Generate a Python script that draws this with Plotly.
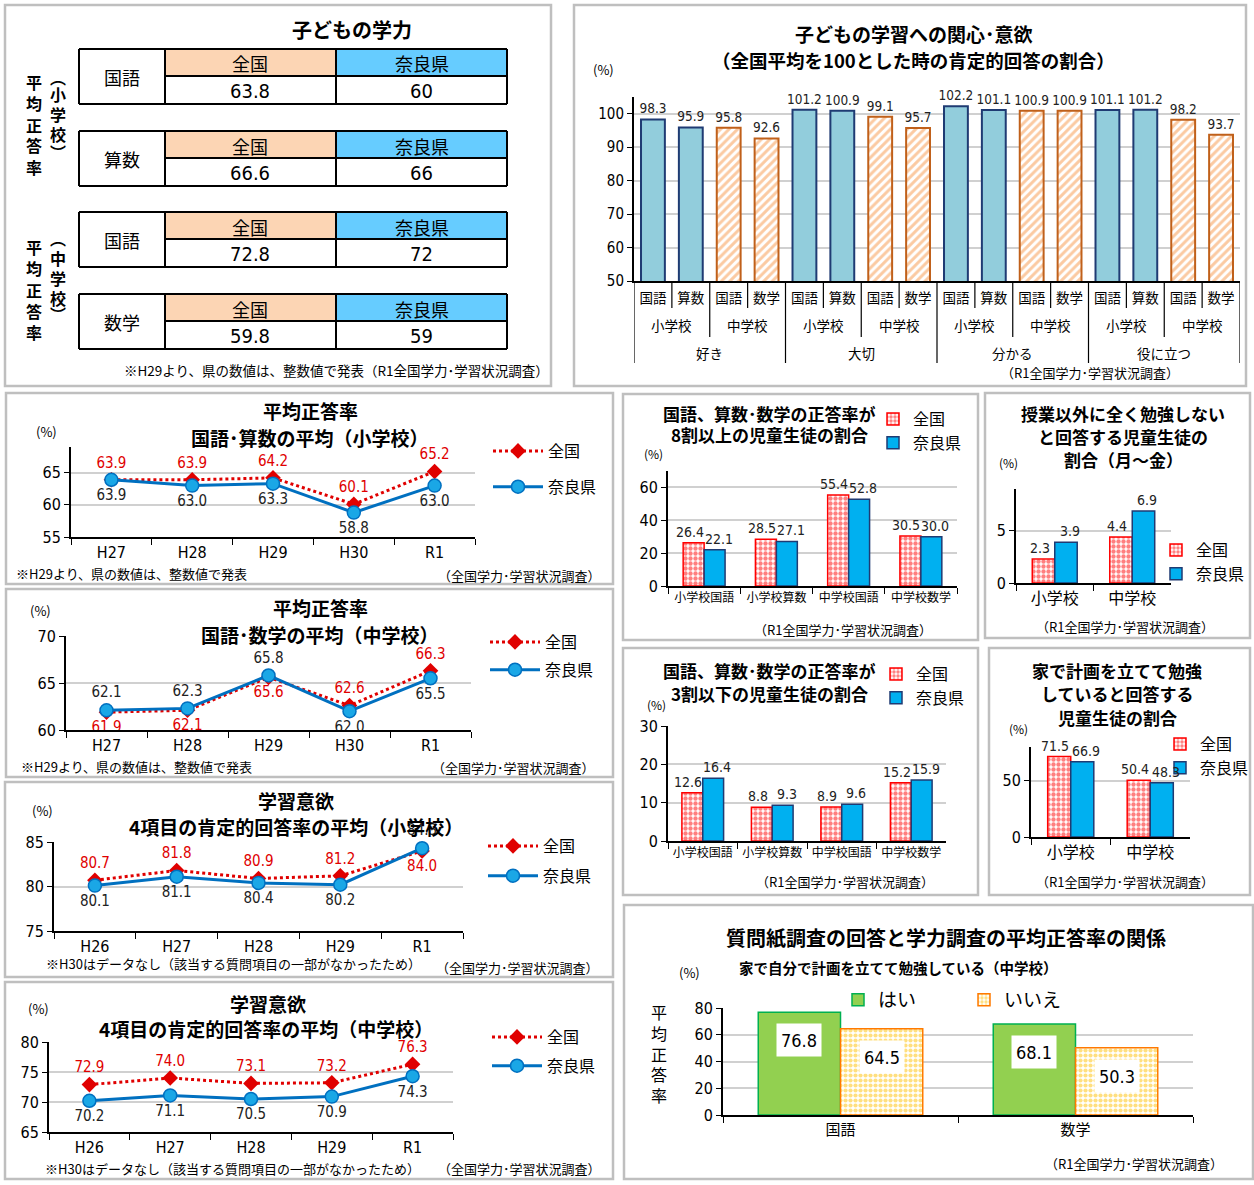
import plotly.graph_objects as go

W, H = 1254, 1185
CJK = "Noto Sans CJK JP"
NUM = "Liberation Sans Narrow, DejaVu Sans Condensed, Liberation Sans, Noto Sans CJK JP"

# ---------------- data ----------------
# Panel 1: table
tbl_subjects = ["国語", "算数", "国語", "数学"]
tbl_headers = ["全国", "奈良県"]
tbl_national = [63.8, 66.6, 72.8, 59.8]
tbl_nara = [60, 66, 72, 59]

# Panel 2: interest / motivation (national = 100)
att_groups = ["好き", "大切", "分かる", "役に立つ"]
att_schools = ["小学校", "中学校"]
att_subjects = ["国語", "算数", "国語", "数学"]
att_elem = [98.3, 95.9, 101.2, 100.9, 102.2, 101.1, 101.1, 101.2]
att_mid = [95.8, 92.6, 99.1, 95.7, 100.9, 100.9, 98.2, 93.7]

# Line charts
lc1_years = ["H27", "H28", "H29", "H30", "R1"]
lc1_nat = [63.9, 63.9, 64.2, 60.1, 65.2]
lc1_nara = [63.9, 63.0, 63.3, 58.8, 63.0]
lc2_years = ["H27", "H28", "H29", "H30", "R1"]
lc2_nat = [61.9, 62.1, 65.6, 62.6, 66.3]
lc2_nara = [62.1, 62.3, 65.8, 62.0, 65.5]
lc3_years = ["H26", "H27", "H28", "H29", "R1"]
lc3_nat = [80.7, 81.8, 80.9, 81.2, 84.0]
lc3_nara = [80.1, 81.1, 80.4, 80.2, 84.3]
lc4_years = ["H26", "H27", "H28", "H29", "R1"]
lc4_nat = [72.9, 74.0, 73.1, 73.2, 76.3]
lc4_nara = [70.2, 71.1, 70.5, 70.9, 74.3]

# Bar charts
bc1_cats = ["小学校国語", "小学校算数", "中学校国語", "中学校数学"]
bc1_nat = [26.4, 28.5, 55.4, 30.5]
bc1_nara = [22.1, 27.1, 52.8, 30.0]
bc2_cats = ["小学校", "中学校"]
bc2_nat = [2.3, 4.4]
bc2_nara = [3.9, 6.9]
bc3_cats = ["小学校国語", "小学校算数", "中学校国語", "中学校数学"]
bc3_nat = [12.6, 8.8, 8.9, 15.2]
bc3_nara = [16.4, 9.3, 9.6, 15.9]
bc4_cats = ["小学校", "中学校"]
bc4_nat = [71.5, 50.4]
bc4_nara = [66.9, 48.3]

# Bottom chart
rel_cats = ["国語", "数学"]
rel_yes = [76.8, 68.1]
rel_no = [64.5, 50.3]
rel_series = ["はい", "いいえ"]

SERIES = ["全国", "奈良県"]
SOURCE = "（全国学力･学習状況調査）"
SOURCE_R1 = "（R1全国学力･学習状況調査）"

# ---------------- helpers ----------------
fig = go.Figure()

def fx(p):
    return p / W

def fy(p):
    return 1 - p / H

ann = []
shp = []
lay = {}

def text(x, y, s, size, bold=False, color="black", family=CJK, xa="center", ya="middle"):
    ann.append(dict(x=fx(x), y=fy(y), xref="paper", yref="paper",
                    text=("<b>%s</b>" % s) if bold else s, showarrow=False,
                    font=dict(size=size, color=color, family=family),
                    xanchor=xa, yanchor=ya))

def rect(x0, y0, x1, y1, line="#BFBFBF", width=2.5, fill=None):
    d = dict(type="rect", xref="paper", yref="paper", x0=fx(x0), x1=fx(x1),
             y0=fy(y1), y1=fy(y0), line=dict(color=line, width=width), layer="below")
    if fill:
        d["fillcolor"] = fill
    if width == 0:
        d["line"] = dict(width=0)
    shp.append(d)

def hline(x0, x1, y, color="black", width=2):
    shp.append(dict(type="line", xref="paper", yref="paper", x0=fx(x0), x1=fx(x1),
                    y0=fy(y), y1=fy(y), line=dict(color=color, width=width)))

def vline(x, y0, y1, color="black", width=2):
    shp.append(dict(type="line", xref="paper", yref="paper", x0=fx(x), x1=fx(x),
                    y0=fy(y0), y1=fy(y1), line=dict(color=color, width=width)))

def axes(n, xl, xr, yt, yb, xcfg, ycfg):
    sx = "" if n == 1 else str(n)
    lay["xaxis" + sx] = dict(domain=[fx(xl), fx(xr)], anchor="y" + sx, automargin=False, **xcfg)
    lay["yaxis" + sx] = dict(domain=[fy(yb), fy(yt)], anchor="x" + sx, automargin=False, **ycfg)
    return "x" + sx, "y" + sx

def ycfg(rng, tickvals, size=16):
    return dict(range=rng, tickvals=tickvals, showgrid=True, gridcolor="#D0D0D0", gridwidth=1.5,
                zeroline=False, showline=True, linecolor="black", linewidth=2,
                ticks="outside", ticklen=5, tickcolor="black",
                tickfont=dict(family=NUM, size=size, color="black"), fixedrange=True)

def xcat(ncat, size=16, family=NUM):
    return dict(type="category", range=[-0.5, ncat - 0.5], showgrid=False, zeroline=False,
                showline=True, linecolor="black", linewidth=2, ticks="outside",
                tickson="boundaries", ticklen=6, tickcolor="black", tickangle=0,
                tickfont=dict(family=family, size=size, color="black"), fixedrange=True)

# ---------------- panel frames ----------------
panels = [(5, 5, 551, 386), (574, 5, 1246, 386), (6, 393, 613, 584), (6, 589, 613, 777),
          (5, 782, 613, 977), (5, 982, 613, 1179), (623, 394, 978, 640), (985, 393, 1250, 638),
          (623, 648, 978, 895), (989, 648, 1250, 895), (624, 905, 1253, 1179)]
for p in panels:
    rect(*p)

# ---------------- Panel 1: tables ----------------
text(352, 29, "子どもの学力", 20, bold=True)
TX = [79, 165, 336, 507]
TY = [49, 131, 212, 294]
HDR, ROW = 27, 28
for i, top in enumerate(TY):
    mid = top + HDR
    bot = mid + ROW
    rect(TX[1], top, TX[2], mid, width=0, fill="#FCD5B4")
    rect(TX[2], top, TX[3], mid, width=0, fill="#66CCFF")
    hline(TX[0], TX[3], top)
    hline(TX[0], TX[3], bot)
    hline(TX[1], TX[3], mid)
    for xx in TX:
        vline(xx, top, bot)
    text((TX[0] + TX[1]) / 2, (top + bot) / 2, tbl_subjects[i], 18)
    text((TX[1] + TX[2]) / 2, top + HDR / 2 + 1, tbl_headers[0], 18)
    text((TX[2] + TX[3]) / 2, top + HDR / 2 + 1, tbl_headers[1], 18)
    text((TX[1] + TX[2]) / 2, mid + ROW / 2 + 1, "%g" % tbl_national[i], 20, family=NUM)
    text((TX[2] + TX[3]) / 2, mid + ROW / 2 + 1, "%g" % tbl_nara[i], 20, family=NUM)

for chars, ys, xx in [("平均正答率", [82, 103, 125, 145, 167], 34),
                      ("︵小学校︶", [77, 94, 114, 134, 152], 58),
                      ("平均正答率", [247, 268, 290, 311, 332], 34),
                      ("︵中学校︶", [238, 258, 278, 298, 314], 58)]:
    for c, yy in zip(chars, ys):
        text(xx, yy, c, 16, bold=True)
text(336, 370, "※H29より、県の数値は、整数値で発表（R1全国学力･学習状況調査）", 13.5)

# ---------------- Panel 2: attitude bars ----------------
xa, ya = axes(1, 634, 1240, 97, 281,
              dict(range=[-0.5, 15.5], tickvals=list(range(16)), ticktext=att_subjects * 4,
                   showgrid=False, zeroline=False, showline=True, linecolor="black", linewidth=2,
                   ticks="", tickfont=dict(family=CJK, size=13.5, color="black"), tickangle=0,
                   ticklabelstandoff=4, fixedrange=True),
              ycfg([50, 105], [50, 60, 70, 80, 90, 100], size=15))
elem_x = [4 * (i // 2) + i % 2 for i in range(len(att_elem))]
mid_x = [4 * (i // 2) + 2 + i % 2 for i in range(len(att_mid))]
fig.add_trace(go.Bar(x=elem_x, y=att_elem, width=0.63, offset=-0.315, base=0,
                     marker=dict(color="#92CDDC", line=dict(color="#1F3B73", width=2)),
                     text=["%.1f" % v for v in att_elem], textposition="outside",
                     constraintext="none",
                     textfont=dict(family=NUM, size=13.5, color="#222"), cliponaxis=False,
                     showlegend=False, xaxis=xa, yaxis=ya))
fig.add_trace(go.Bar(x=mid_x, y=att_mid, width=0.63, offset=-0.315, base=0,
                     marker=dict(color="white", line=dict(color="#C0601A", width=2),
                                 pattern=dict(shape="/", fgcolor="#F79646", bgcolor="white",
                                              size=6, solidity=0.5)),
                     text=["%.1f" % v for v in att_mid], textposition="outside",
                     constraintext="none",
                     textfont=dict(family=NUM, size=13.5, color="#222"), cliponaxis=False,
                     showlegend=False, xaxis=xa, yaxis=ya))
n_bars = 4 * len(att_groups)
for k in range(n_bars + 1):
    yend = 363 if k % 4 == 0 else (337 if k % 2 == 0 else 308)
    shp.append(dict(type="line", xref=xa, yref="paper", x0=k - 0.5, x1=k - 0.5,
                    y0=fy(281), y1=fy(yend), line=dict(color="black", width=1.2)))
for g, grp in enumerate(att_groups):
    for s, sch in enumerate(att_schools):
        ann.append(dict(x=4 * g + 2 * s + 0.5, y=fy(325), xref=xa, yref="paper", text=sch,
                        showarrow=False, xanchor="center", yanchor="middle",
                        font=dict(family=CJK, size=13.5, color="black")))
    ann.append(dict(x=4 * g + 1.5, y=fy(353), xref=xa, yref="paper", text=grp,
                    showarrow=False, xanchor="center", yanchor="middle",
                    font=dict(family=CJK, size=13.5, color="black")))
text(914, 33, "子どもの学習への関心･意欲", 19, bold=True)
text(914, 60, "（全国平均を100とした時の肯定的回答の割合）", 18.5, bold=True)
text(603, 70, "(%)", 13)
text(1090, 372, SOURCE_R1, 13)

# ---------------- Line charts ----------------
RED = "#E00000"
BLUE = "#0070C0"

def line_chart(n, years, nat, nara, nat_pos, nara_pos, dom, yr, yt, leg, legpos, gap,
               titles, pct, note, src):
    xa, ya = axes(n, dom[0], dom[1], dom[2], dom[3], xcat(len(years), 16), ycfg(yr, yt, 16))
    fig.add_trace(go.Scatter(x=years, y=nat, name=SERIES[0], mode="lines+markers+text",
                             line=dict(color=RED, width=3, dash="dot"),
                             marker=dict(symbol="diamond", size=12, color=RED),
                             text=["%.1f" % v for v in nat], textposition=nat_pos,
                             textfont=dict(family=NUM, size=15, color=RED), cliponaxis=False,
                             legend=leg, legendgroup=leg + "a", xaxis=xa, yaxis=ya))
    fig.add_trace(go.Scatter(x=years, y=nara, name=SERIES[1], mode="lines+markers+text",
                             line=dict(color=BLUE, width=3),
                             marker=dict(symbol="circle", size=13, color="#1AA7E6",
                                         line=dict(color=BLUE, width=1.5)),
                             text=["%.1f" % v for v in nara], textposition=nara_pos,
                             textfont=dict(family=NUM, size=15, color="#222"), cliponaxis=False,
                             legend=leg, legendgroup=leg + "b", xaxis=xa, yaxis=ya))
    lay[leg] = dict(x=fx(legpos[0]), y=fy(legpos[1]), xanchor="left", yanchor="top",
                    font=dict(family=CJK, size=16, color="black"), bgcolor="rgba(0,0,0,0)",
                    traceorder="grouped", tracegroupgap=gap, itemwidth=50)
    for (tx, ty, ts) in titles:
        text(tx, ty, ts, 19, bold=True)
    text(pct[0], pct[1], "(%)", 13)
    text(note[0], note[1], note[2], 13, xa="left")
    text(src[0], src[1], SOURCE, 13)

T, B = "top center", "bottom center"
line_chart(2, lc1_years, lc1_nat, lc1_nara, [T] * 5, [B] * 5, (71, 475, 447, 537),
           [55, 69], [55, 60, 65], "legend", (488, 434), 12,
           [(310, 410, "平均正答率"), (310, 437, "国語･算数の平均（小学校）")], (46, 432),
           (14, 573, "※H29より、県の数値は、整数値で発表"), (519, 576))
line_chart(3, lc2_years, lc2_nat, lc2_nara, [B, B, B, T, T], [T, T, T, B, B], (66, 471, 636, 730),
           [60, 70], [60, 65, 70], "legend2", (485, 625), 4,
           [(320, 607, "平均正答率"), (320, 634, "国語･数学の平均（中学校）")], (40, 610),
           (19, 766, "※H29より、県の数値は、整数値で発表"), (513, 767))
line_chart(4, lc3_years, lc3_nat, lc3_nara, [T, T, T, T, B], [B, B, B, B, T], (54, 463, 842, 931),
           [75, 85], [75, 80, 85], "legend3", (483, 829), 6,
           [(296, 800, "学習意欲"), (296, 826, "4項目の肯定的回答率の平均（小学校）")], (42, 810),
           (44, 963, "※H30はデータなし（該当する質問項目の一部がなかったため）"), (517, 967))
line_chart(5, lc4_years, lc4_nat, lc4_nara, [T] * 5, [B] * 5, (49, 453, 1042, 1132),
           [65, 80], [65, 70, 75, 80], "legend4", (487, 1020), 5,
           [(268, 1003, "学習意欲"), (266, 1028, "4項目の肯定的回答率の平均（中学校）")], (38, 1008),
           (43, 1168, "※H30はデータなし（該当する質問項目の一部がなかったため）"), (519, 1168))

# ---------------- small bar charts ----------------
def nat_marker():
    return dict(color="white", line=dict(color="#FF0000", width=1.5),
                pattern=dict(shape=".", fgcolor="#FF0000", bgcolor="white", size=5, solidity=0.6))

NARA_MARKER = dict(color="#00B0F0", line=dict(color="#1F3B73", width=1.5))

def bar_chart(n, cats, nat, nara, dom, yr, yt, w, leg, legpos, titles, tsize, pct, src,
              xsize, xfam=CJK):
    xa, ya = axes(n, dom[0], dom[1], dom[2], dom[3], xcat(len(cats), xsize, xfam),
                  ycfg(yr, yt, 16))
    fig.add_trace(go.Bar(x=cats, y=nat, name=SERIES[0], width=w, offset=-w,
                         marker=nat_marker(), cliponaxis=False, legend=leg, xaxis=xa, yaxis=ya))
    fig.add_trace(go.Bar(x=cats, y=nara, name=SERIES[1], width=w, offset=0,
                         marker=NARA_MARKER, cliponaxis=False, legend=leg, xaxis=xa, yaxis=ya))
    # value labels: centred over each bar, nudged apart a little like the source chart
    for i in range(len(cats)):
        for xpos, v, sh in ((i - w / 2, nat[i], -4), (i + w / 2, nara[i], 4)):
            ann.append(dict(x=xpos, y=v, xref=xa, yref=ya, text="%.1f" % v, showarrow=False,
                            xanchor="center", yanchor="bottom", xshift=sh, yshift=1,
                            font=dict(family=NUM, size=14, color="#222")))
    lay[leg] = dict(x=fx(legpos[0]), y=fy(legpos[1]), xanchor="left", yanchor="top",
                    font=dict(family=CJK, size=16, color="black"), bgcolor="rgba(0,0,0,0)",
                    itemwidth=30, tracegroupgap=0)
    for (tx, ty, ts) in titles:
        text(tx, ty, ts, tsize, bold=True)
    text(pct[0], pct[1], "(%)", 12)
    text(src[0], src[1], SOURCE_R1, 13)

bar_chart(6, bc1_cats, bc1_nat, bc1_nara, (668, 957, 471, 586), [0, 70], [0, 20, 40, 60], 0.29,
          "legend5", (873, 402),
          [(769, 413, "国語、算数･数学の正答率が"), (769, 435, "8割以上の児童生徒の割合")], 17,
          (654, 453), (843, 630), 12)
bar_chart(7, bc2_cats, bc2_nat, bc2_nara, (1016, 1171, 489, 583), [0, 9], [0, 5], 0.29,
          "legend6", (1156, 533),
          [(1123, 413, "授業以外に全く勉強しない"), (1123, 436, "と回答する児童生徒の"),
           (1123, 459, "割合（月～金）")], 17,
          (1008, 463), (1125, 626), 16)
bar_chart(8, bc3_cats, bc3_nat, bc3_nara, (668, 946, 726, 841), [0, 30], [0, 10, 20, 30], 0.3,
          "legend7", (876, 657),
          [(769, 670, "国語、算数･数学の正答率が"), (769, 693, "3割以下の児童生徒の割合")], 17,
          (656, 705), (845, 881), 12)
bar_chart(9, bc4_cats, bc4_nat, bc4_nara, (1031, 1190, 747, 837), [0, 80], [0, 50], 0.29,
          "legend8", (1160, 727),
          [(1117, 671, "家で計画を立てて勉強"), (1117, 693, "していると回答する"),
           (1117, 717, "児童生徒の割合")], 17,
          (1018, 729), (1125, 881), 16)

# ---------------- bottom chart ----------------
xa, ya = axes(10, 723, 1193, 1008, 1115, xcat(len(rel_cats), 15, CJK),
              ycfg([0, 80], [0, 20, 40, 60, 80], 16))
RW = 0.35
fig.add_trace(go.Bar(x=rel_cats, y=rel_yes, name=rel_series[0], width=RW, offset=-RW,
                     marker=dict(color="#92D050", line=dict(color="#00B050", width=1.5)),
                     legend="legend9", xaxis=xa, yaxis=ya))
fig.add_trace(go.Bar(x=rel_cats, y=rel_no, name=rel_series[1], width=RW, offset=0,
                     marker=dict(color="white", line=dict(color="#FF7A00", width=1.5),
                                 pattern=dict(shape=".", fgcolor="#FFC000", bgcolor="white",
                                              size=5, solidity=0.55)),
                     legend="legend9", xaxis=xa, yaxis=ya))
for i, (vy, vn) in enumerate(zip(rel_yes, rel_no)):
    for xpos, v in ((i - RW / 2, vy), (i + RW / 2, vn)):
        ann.append(dict(x=xpos, y=v - 21, xref=xa, yref=ya, text="%.1f" % v, showarrow=False,
                        xanchor="center", yanchor="middle",
                        font=dict(family=NUM, size=18, color="black"), bgcolor="white",
                        width=42, height=30))
lay["legend9"] = dict(x=fx(838), y=fy(981), xanchor="left", yanchor="top", orientation="h",
                      font=dict(family=CJK, size=19, color="black"), bgcolor="rgba(0,0,0,0)",
                      itemwidth=30, entrywidth=81)
text(946, 937, "質問紙調査の回答と学力調査の平均正答率の関係", 20, bold=True)
text(899, 967, "家で自分で計画を立てて勉強している（中学校）", 14.5, bold=True)
text(689, 972, "(%)", 13)
ann.append(dict(x=fx(659), y=fy(1053), xref="paper", yref="paper",
                text="平<br>均<br>正<br>答<br>率", showarrow=False,
                xanchor="center", yanchor="middle",
                font=dict(family=CJK, size=16, color="black")))
text(1134, 1163, SOURCE_R1, 13)

fig.update_layout(width=W, height=H, autosize=False,
                  margin=dict(l=0, r=0, t=0, b=0, pad=0, autoexpand=False),
                  paper_bgcolor="white", plot_bgcolor="white", showlegend=True,
                  annotations=ann, shapes=shp, **lay)
fig.write_html("out.html", config={"displayModeBar": False},
               post_script="document.body.style.margin='0px';")
